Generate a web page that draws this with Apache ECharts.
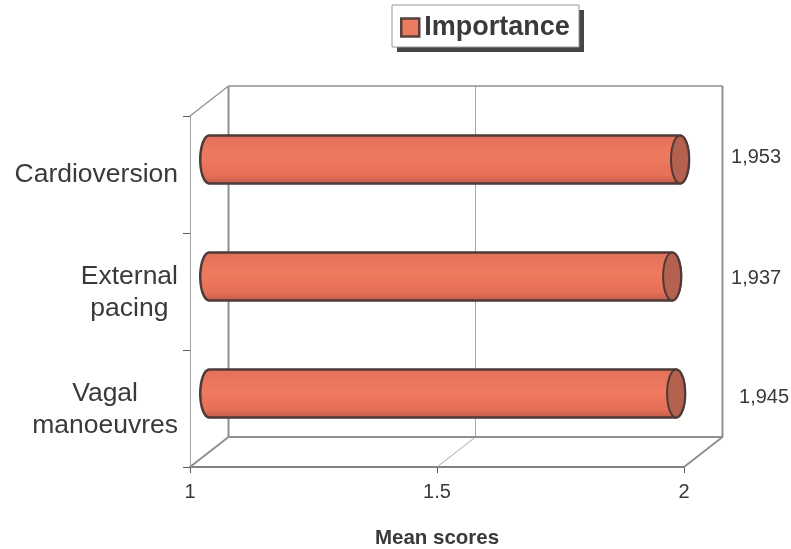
<!DOCTYPE html>
<html>
<head>
<meta charset="utf-8">
<style>html,body{margin:0;padding:0;background:#fff}#chart{width:791px;height:549px}</style>
<script src="https://cdn.jsdelivr.net/npm/echarts@6/dist/echarts.min.js"></script>
</head>
<body>
<div id="chart"></div>
<script>
const categories = ['Cardioversion', 'External\npacing', 'Vagal\nmanoeuvres'];
const seriesName = 'Importance';
const importance = [1.953, 1.937, 1.945];
const xTicks = [1, 1.5, 2];
const labelGaps = [76, 84, 88];
const labelLifts = [-2.5, 1.5, 3.5];

// Oblique projection of the box: how far the rear wall sits from the front plane.
const DEPTH_X = 38.5;
const DEPTH_Y = -30;
const BAR_RATIO = 0.41;
const CAP_RX = 9;
const OUTLINE = '#4e3a36';

const line = (x1, y1, x2, y2, stroke, lineWidth) => ({
  type: 'line', silent: true,
  shape: { x1, y1, x2, y2 },
  style: { stroke, lineWidth }
});

// Rear wall, floor edges and the mid gridline of the box.
function renderBox(params, api) {
  const r = params.coordSys;
  const midX = api.coord([xTicks[1], categories[0]])[0];
  const l = r.x, t = r.y, b = r.y + r.height, re = r.x + r.width;
  const edge = '#8f8f8f', thin = '#a9a9a9';
  return {
    type: 'group',
    children: [
      line(midX + DEPTH_X, t + DEPTH_Y, midX + DEPTH_X, b + DEPTH_Y, thin, 1),
      line(midX, b, midX + DEPTH_X, b + DEPTH_Y, thin, 1),
      line(l, t, l + DEPTH_X, t + DEPTH_Y, edge, 1.2),
      line(l, b, l + DEPTH_X, b + DEPTH_Y, edge, 2),
      line(re, b, re + DEPTH_X, b + DEPTH_Y, edge, 2),
      line(l + DEPTH_X, t + DEPTH_Y, re + DEPTH_X, t + DEPTH_Y, edge, 1.5),
      line(l + DEPTH_X, t + DEPTH_Y, l + DEPTH_X, b + DEPTH_Y, edge, 2),
      line(re + DEPTH_X, t + DEPTH_Y, re + DEPTH_X, b + DEPTH_Y, edge, 2),
      line(l + DEPTH_X, b + DEPTH_Y, re + DEPTH_X, b + DEPTH_Y, edge, 2)
    ]
  };
}

// A horizontal cylinder standing halfway through the box depth.
function renderCylinder(params, api) {
  const value = api.value(0);
  const start = api.coord([1, api.value(1)]);
  const end = api.coord([value, api.value(1)]);
  const ry = api.size([0, 1])[1] * BAR_RATIO / 2;
  const cy = start[1] + DEPTH_Y / 2;
  const x0 = start[0] + DEPTH_X / 2;
  const x1 = end[0] + DEPTH_X / 2;
  const outline = [];
  for (let a = 90; a <= 270; a += 6) {
    const rad = a * Math.PI / 180;
    outline.push([x0 + CAP_RX * Math.cos(rad), cy - ry * Math.sin(rad)]);
  }
  for (let a = -90; a <= 90; a += 6) {
    const rad = a * Math.PI / 180;
    outline.push([x1 + CAP_RX * Math.cos(rad), cy - ry * Math.sin(rad)]);
  }
  return {
    type: 'group',
    children: [
      {
        type: 'polygon',
        shape: { points: outline },
        style: {
          stroke: OUTLINE,
          lineWidth: 2.5,
          fill: {
            type: 'linear', x: 0, y: 0, x2: 0, y2: 1,
            colorStops: [
              { offset: 0, color: '#e2705a' },
              { offset: 0.45, color: '#ee7a60' },
              { offset: 0.82, color: '#e56f57' },
              { offset: 1, color: '#bd5b48' }
            ]
          }
        }
      },
      {
        type: 'ellipse',
        shape: { cx: x1, cy, rx: CAP_RX, ry },
        style: { fill: '#b5614f', stroke: OUTLINE, lineWidth: 2 }
      },
      {
        type: 'text',
        style: {
          x: x1 + labelGaps[params.dataIndex],
          y: cy + labelLifts[params.dataIndex],
          text: String(value).replace('.', ','),
          font: '20px "Liberation Sans", Arial, sans-serif',
          fill: '#3a3a3a',
          align: 'center',
          verticalAlign: 'middle'
        }
      }
    ]
  };
}

const chart = echarts.init(document.getElementById('chart'), null, { renderer: 'canvas' });
chart.setOption({
  animation: false,
  backgroundColor: '#ffffff',
  textStyle: { fontFamily: '"Liberation Sans", Arial, sans-serif' },
  // Legend frame with its hard drop shadow.
  graphic: [
    { type: 'rect', z: 0, silent: true, shape: { x: 397, y: 10, width: 187, height: 42 }, style: { fill: '#454545' } },
    { type: 'rect', z: 0, silent: true, shape: { x: 392, y: 5, width: 187, height: 42 }, style: { fill: '#ffffff', stroke: '#9a9a9a', lineWidth: 1 } }
  ],
  legend: {
    left: 392,
    top: 5,
    padding: [9, 9, 5, 8],
    z: 5,
    data: [seriesName],
    icon: 'rect',
    itemWidth: 18,
    itemHeight: 18,
    itemGap: 0,
    itemStyle: { color: '#ea7a60', borderColor: '#5a403a', borderWidth: 2.5 },
    textStyle: { fontSize: 27, fontWeight: 'bold', color: '#3a3a3e', padding: [0, 0, 0, 0] }
  },
  grid: { left: 190, top: 116, width: 494, height: 351, outerBoundsMode: 'none' },
  xAxis: {
    type: 'value',
    min: xTicks[0],
    max: xTicks[2],
    interval: xTicks[1] - xTicks[0],
    name: 'Mean scores',
    nameLocation: 'middle',
    nameGap: 61,
    nameTextStyle: { fontSize: 20.5, fontWeight: 'bold', color: '#3a3a3a' },
    axisLine: { show: true, lineStyle: { color: '#5a5a5a', width: 1.5 } },
    axisTick: { show: true, length: 6, lineStyle: { color: '#5a5a5a' } },
    axisLabel: { fontSize: 20, color: '#3a3a3a', margin: 15 },
    splitLine: { show: false }
  },
  yAxis: {
    type: 'category',
    inverse: true,
    data: categories,
    axisLine: { show: true, lineStyle: { color: '#a0a0a0', width: 1 } },
    axisTick: { show: true, length: 7, alignWithLabel: false, lineStyle: { color: '#5a5a5a' } },
    axisLabel: {
      margin: 12,
      color: '#3a3a3a',
      fontSize: 26,
      formatter: v => {
        const lines = v.split('\n');
        return lines.map(s => '{' + (lines.length > 1 ? 'two' : 'one') + '|' + s + '}').join('\n');
      },
      rich: {
        one: { fontSize: 26.5, lineHeight: 33, color: '#3a3a3a', align: 'center' },
        two: { fontSize: 26.5, lineHeight: 32, padding: [2, 0, 0, 0], color: '#3a3a3a', align: 'center' }
      }
    }
  },
  series: [
    {
      type: 'custom',
      name: 'box',
      coordinateSystem: 'cartesian2d',
      clip: false,
      silent: true,
      z: 1,
      renderItem: renderBox,
      data: [[xTicks[0], categories[0]]],
      encode: { x: 0, y: 1 }
    },
    {
      type: 'custom',
      name: seriesName,
      coordinateSystem: 'cartesian2d',
      clip: false,
      z: 2,
      renderItem: renderCylinder,
      itemStyle: { color: '#ea7a60' },
      data: importance.map((v, i) => [v, categories[i]]),
      encode: { x: 0, y: 1 }
    }
  ]
});
</script>
</body>
</html>
